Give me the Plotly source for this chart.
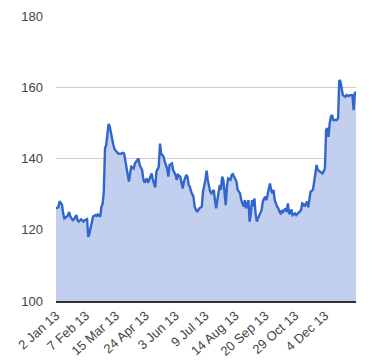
import plotly.graph_objects as go

# Trading-day index (0 = 2 Jan 2013) and closing values
day = [0, 2, 3, 5, 6, 7, 9, 10, 11, 12, 14, 15, 17, 18, 19, 21, 23, 24, 26, 27,
       28, 30, 31, 33, 34, 35, 37, 38, 39, 40, 41, 42, 43, 44, 45, 46, 47, 48, 49, 51,
       52, 54, 56, 57, 59, 60, 61, 62, 63, 65, 66, 67, 69, 70, 72, 73, 74, 76, 77, 79,
       80, 81, 83, 84, 86, 87, 88, 90, 91, 93, 94, 95, 97, 98, 100, 101, 102, 104, 105, 106,
       107, 109, 110, 111, 112, 113, 115, 116, 118, 119, 120, 122, 123, 125, 126, 127, 128, 129, 130, 132,
       133, 134, 135, 137, 138, 139, 140, 141, 142, 143, 144, 146, 147, 148, 150, 151, 152, 154, 155, 157,
       158, 159, 161, 162, 163, 164, 165, 166, 167, 168, 169, 171, 172, 173, 175, 176, 177, 178, 179, 180,
       181, 182, 183, 185, 186, 187, 188, 189, 190, 192, 193, 194, 195, 196, 197, 198, 200, 201, 203, 204,
       205, 206, 207, 208, 210, 211, 212, 213, 215, 216, 217, 218, 219, 221, 222, 223, 225, 226, 227, 228,
       229, 230, 231, 232, 233, 235, 236, 237, 238, 239, 240, 242, 243, 245, 246, 247, 248, 249, 250, 251]
price = [126.0, 126.3, 128.0, 127.0, 124.6, 123.2, 123.7, 124.1, 125.0, 123.7, 122.7, 122.9, 124.1, 122.7, 122.3, 122.9, 122.3, 122.7, 123.0, 118.0,
         119.0, 121.8, 123.7, 124.1, 123.9, 124.3, 123.7, 126.5, 127.2, 130.7, 142.8, 143.8, 147.0, 149.7, 148.9, 147.0, 145.2, 143.8, 142.6, 141.9,
         141.4, 141.3, 141.6, 141.4, 137.7, 134.9, 133.5, 135.8, 137.7, 137.2, 138.6, 139.1, 140.0, 138.2, 136.8, 134.4, 133.2, 134.4, 133.2, 134.9,
         135.8, 134.1, 131.9, 136.3, 137.7, 144.2, 141.4, 140.5, 139.1, 137.2, 134.9, 138.2, 138.6, 136.8, 135.4, 134.0, 135.4, 134.9, 133.5, 131.6,
         133.5, 135.4, 134.9, 132.6, 132.1, 130.7, 129.3, 126.5, 125.0, 125.5, 126.0, 126.5, 130.7, 134.0, 136.6, 134.0, 132.1, 130.7, 130.2, 131.2,
         128.3, 126.0, 128.3, 132.6, 131.2, 134.9, 134.0, 131.2, 126.9, 132.1, 134.4, 134.0, 135.4, 135.6, 134.0, 133.5, 131.2, 130.2, 128.3, 126.5,
         128.3, 126.0, 128.3, 122.3, 124.6, 128.3, 126.5, 128.8, 124.6, 122.3, 123.2, 124.6, 125.5, 127.9, 129.3, 128.3, 130.2, 131.6, 133.0, 131.2,
         130.2, 131.2, 128.3, 126.5, 126.0, 125.0, 124.6, 125.5, 125.0, 126.0, 125.0, 127.4, 124.6, 124.6, 125.7, 124.1, 124.6, 124.1, 124.8, 125.0,
         125.5, 127.4, 127.2, 126.5, 127.9, 126.3, 128.8, 130.7, 131.2, 133.0, 135.8, 138.2, 136.8, 136.3, 136.0, 135.8, 137.2, 148.0, 148.5, 146.1,
         149.9, 151.7, 152.2, 150.8, 150.8, 150.8, 151.3, 162.0, 161.6, 159.7, 157.8, 157.3, 157.8, 157.5, 157.8, 157.8, 157.8, 153.6, 158.3, 158.7]

tick_days = [0, 25, 50, 75, 100, 125, 150, 175, 200, 225]
tick_labels = ["2 Jan 13", "7 Feb 13", "15 Mar 13", "24 Apr 13", "3 Jun 13",
               "9 Jul 13", "14 Aug 13", "20 Sep 13", "29 Oct 13", "4 Dec 13"]
y_ticks = [100, 120, 140, 160, 180]

fig = go.Figure()
fig.add_trace(go.Scatter(
    x=day, y=price, mode="lines",
    line=dict(color="#3366cc", width=2.4),
    fill="tozeroy", fillcolor="#c2cfef",
    hoverinfo="skip", showlegend=False,
))

font = dict(family="Arial, Liberation Sans, sans-serif", size=13, color="#444444")

# page body has an 8px margin, so the figure is sized to fit inside the window
fig.update_layout(
    width=372, height=352,
    margin=dict(l=48, r=24, t=8, b=59, autoexpand=False),
    paper_bgcolor="white", plot_bgcolor="white",
    font=font,
    xaxis=dict(
        range=[0, 251], tickmode="array", tickvals=tick_days, ticktext=tick_labels,
        tickangle=-42, showgrid=False, zeroline=False,
        showline=True, linecolor="#333333", linewidth=2,
        ticks="", tickfont=font, automargin=False,
    ),
    yaxis=dict(
        range=[100, 180], tickmode="array", tickvals=y_ticks,
        showgrid=True, gridcolor="#cccccc", gridwidth=1,
        zeroline=False, showline=False, ticks="",
        ticklabelstandoff=12, tickfont=font, automargin=False,
    ),
)

fig.write_html("out.html")
